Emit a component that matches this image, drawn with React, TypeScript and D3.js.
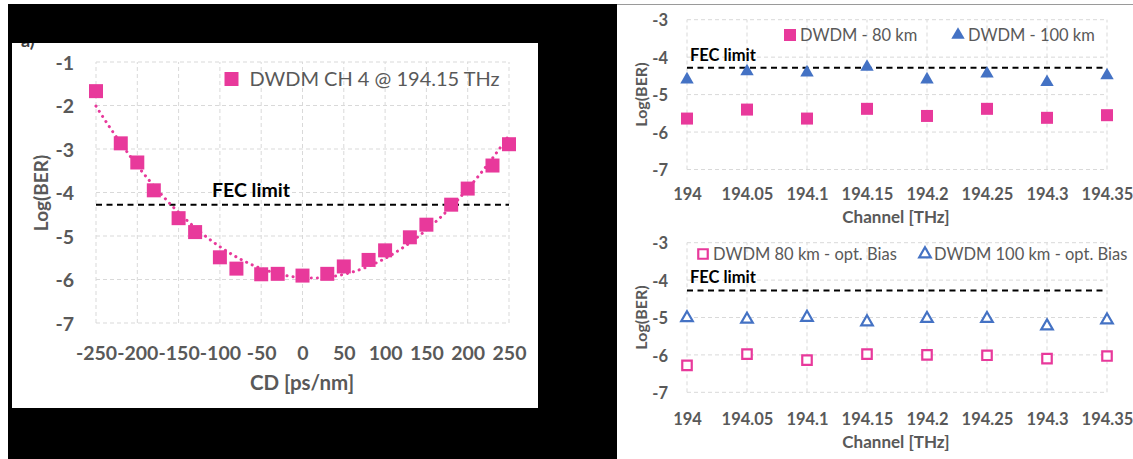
import React, { useEffect, useRef } from "react"
import * as d3 from "d3"

// left chart: BER vs chromatic dispersion, channel 4
const cdValues = [-250, -220, -200, -180, -150, -130, -100, -80, -50, -30, 0, 30, 50, 80, 100, 130, 150, 180, 200, 230, 250]
const berCh4 = [-1.67, -2.87, -3.31, -3.95, -4.59, -4.91, -5.49, -5.75, -5.88, -5.87, -5.91, -5.87, -5.7, -5.55, -5.33, -5.03, -4.74, -4.28, -3.91, -3.38, -2.89]
const cdTicks = [-250, -200, -150, -100, -50, 0, 50, 100, 150, 200, 250]
const cdBerTicks = [-1, -2, -3, -4, -5, -6, -7]

// right charts: BER per channel
const channels = [194, 194.05, 194.1, 194.15, 194.2, 194.25, 194.3, 194.35]
const ber80km = [-5.64, -5.4, -5.64, -5.38, -5.57, -5.38, -5.62, -5.55]
const ber100km = [-4.6, -4.38, -4.41, -4.26, -4.6, -4.44, -4.67, -4.49]
const ber80kmBias = [-6.28, -5.98, -6.14, -5.98, -6.0, -6.01, -6.1, -6.03]
const ber100kmBias = [-5.01, -5.05, -5.0, -5.12, -5.03, -5.03, -5.23, -5.07]
const channelBerTicks = [-3, -4, -5, -6, -7]

const fecLimit = -4.28

const pink = "#E8399B"
const blue = "#4472C4"
const grey = "#595959"
const gridGrey = "#D9D9D9"
const font = "Lato, 'Open Sans', sans-serif"

// plain hyphen for negatives, like excel
const plain = (d: any) => String(+(+d).toFixed(2))

// least squares 2nd order polynomial, like the excel trendline
const quadFit = (xs: number[], ys: number[]) => {
  const s = [0, 0, 0, 0, 0]
  const t = [0, 0, 0]
  xs.forEach((xv, i) => {
    const x = xv / 100
    for (let k = 0; k < 5; k++) s[k] += Math.pow(x, k)
    for (let k = 0; k < 3; k++) t[k] += ys[i] * Math.pow(x, k)
  })
  const m = [
    [s[0], s[1], s[2], t[0]],
    [s[1], s[2], s[3], t[1]],
    [s[2], s[3], s[4], t[2]]
  ]
  for (let c = 0; c < 3; c++) {
    for (let r = c + 1; r < 3; r++) {
      const f = m[r][c] / m[c][c]
      for (let k = c; k < 4; k++) m[r][k] -= f * m[c][k]
    }
  }
  const coef = [0, 0, 0]
  for (let r = 2; r >= 0; r--) {
    let v = m[r][3]
    for (let k = r + 1; k < 3; k++) v -= m[r][k] * coef[k]
    coef[r] = v / m[r][r]
  }
  return (xv: number) => coef[0] + coef[1] * (xv / 100) + coef[2] * (xv / 100) ** 2
}

const drawGrid = (g: any, x: any, y: any, xTicks: number[], yTicks: number[]) => {
  const [x0, x1] = x.range()
  const [y0, y1] = y.range()
  g.append("g")
    .selectAll("line")
    .data(xTicks)
    .join("line")
    .attr("x1", (d: number) => x(d))
    .attr("x2", (d: number) => x(d))
    .attr("y1", y0)
    .attr("y2", y1)
  g.append("g")
    .selectAll("line")
    .data(yTicks)
    .join("line")
    .attr("x1", x0)
    .attr("x2", x1)
    .attr("y1", (d: number) => y(d))
    .attr("y2", (d: number) => y(d))
  g.selectAll("line")
    .attr("stroke", gridGrey)
    .attr("stroke-width", 1)
    .attr("stroke-dasharray", "4 3")
}

const styleAxis = (g: any, size: number) => {
  g.select(".domain").remove()
  g.attr("font-family", font)
    .attr("font-size", size)
    .attr("font-weight", "bold")
    .attr("color", grey)
}

const addText = (svg: any, txt: string, x: number, y: number, size: number, opts: any = {}) => {
  return svg
    .append("text")
    .attr("x", x)
    .attr("y", y)
    .attr("font-family", font)
    .attr("font-size", size)
    .attr("font-weight", opts.bold ? "bold" : "normal")
    .attr("fill", opts.color || grey)
    .attr("text-anchor", opts.anchor || "start")
    .text(txt)
}

export default function App() {
  const ref = useRef(null)

  useEffect(() => {
    const svg = d3.select(ref.current)
    svg.selectAll("*").remove()

    // frame: black mat around left chart, white panel
    svg.append("rect").attr("width", 1133).attr("height", 459).attr("fill", "white")
    svg.append("rect").attr("x", 8).attr("y", 4).attr("width", 609).attr("height", 455).attr("fill", "black")
    svg.append("line").attr("x1", 617).attr("x2", 1133).attr("y1", 4.5).attr("y2", 4.5).attr("stroke", "#9a9a9a")
    svg.append("rect").attr("x", 12).attr("y", 43).attr("width", 526).attr("height", 365).attr("fill", "white")
    svg.append("clipPath").attr("id", "panel").append("rect").attr("x", 12).attr("y", 43).attr("width", 526).attr("height", 365)
    addText(svg, "a)", 21, 47, 18, { bold: true, color: "#404040" }).attr("clip-path", "url(#panel)")

    // ---------- left chart ----------
    const xL = d3.scaleLinear().domain([-250, 250]).range([96, 509])
    const yL = d3.scaleLinear().domain([-7, -1]).range([323, 62])
    drawGrid(svg.append("g"), xL, yL, cdTicks, cdBerTicks)

    svg.append("g")
      .attr("transform", "translate(0,360)")
      .call(d3.axisBottom(xL).tickValues(cdTicks).tickSize(0).tickPadding(0).tickFormat(plain))
      .call((g: any) => styleAxis(g, 19.5))
      .call((g: any) => g.selectAll("text").attr("y", 0).attr("dy", null))
    svg.append("g")
      .attr("transform", "translate(74,0)")
      .call(d3.axisLeft(yL).tickValues(cdBerTicks).tickSize(0).tickPadding(0).tickFormat(plain))
      .call((g: any) => styleAxis(g, 19.5))
      .call((g: any) => g.selectAll("text").attr("dy", "0.38em"))

    addText(svg, "CD [ps/nm]", 302, 390, 20.5, { bold: true, anchor: "middle" })
    addText(svg, "Log(BER)", 0, 0, 19, { bold: true, anchor: "middle" }).attr("transform", "translate(48,193) rotate(-90)")

    svg.append("line")
      .attr("x1", xL(-250))
      .attr("x2", xL(250))
      .attr("y1", yL(fecLimit))
      .attr("y2", yL(fecLimit))
      .attr("stroke", "black")
      .attr("stroke-width", 2)
      .attr("stroke-dasharray", "6 4.5")
    addText(svg, "FEC limit", 212, 197, 19.5, { bold: true, color: "black" })

    const trend = quadFit(cdValues, berCh4)
    const trendLine = d3.line<number>().x(d => xL(d)).y(d => yL(trend(d)))
    svg.append("path")
      .attr("d", trendLine(d3.range(-250, 251, 5)))
      .attr("fill", "none")
      .attr("stroke", pink)
      .attr("stroke-width", 3)
      .attr("stroke-linecap", "round")
      .attr("stroke-dasharray", "0.1 6")

    const squareBig = d3.symbol().type(d3.symbolSquare).size(196)
    svg.append("g")
      .selectAll("path")
      .data(cdValues)
      .join("path")
      .attr("d", squareBig())
      .attr("transform", (d, i) => `translate(${xL(d)},${yL(berCh4[i])})`)
      .attr("fill", pink)

    svg.append("path").attr("d", squareBig()).attr("transform", "translate(231.5,79)").attr("fill", pink)
    addText(svg, "DWDM CH 4 @ 194.15 THz", 249.5, 86, 20)

    // ---------- right charts ----------
    const xR = d3.scaleLinear().domain([194, 194.35]).range([687, 1107])
    const squareSmall = d3.symbol().type(d3.symbolSquare).size(144)
    const triSmall = d3.symbol().type(d3.symbolTriangle).size(78)
    const squareOpen = d3.symbol().type(d3.symbolSquare).size(90)
    const triOpen = d3.symbol().type(d3.symbolTriangle).size(58)

    const panels = [
      {
        y: d3.scaleLinear().domain([-7, -3]).range([169.5, 19.7]),
        tickBase: 199.5,
        titleBase: 223,
        fecBase: 61.3,
        legendBase: 41,
        legendMid: 35,
        series: [
          { values: ber100km, symbol: triSmall, fill: blue, stroke: "none", label: "DWDM - 100 km", mx: 958, tx: 968 },
          { values: ber80km, symbol: squareSmall, fill: pink, stroke: "none", label: "DWDM - 80 km", mx: 790, tx: 800 }
        ]
      },
      {
        y: d3.scaleLinear().domain([-7, -3]).range([392.3, 242.7]),
        tickBase: 425,
        titleBase: 448,
        fecBase: 283,
        legendBase: 259.5,
        legendMid: 254,
        series: [
          { values: ber100kmBias, symbol: triOpen, fill: "white", stroke: blue, label: "DWDM 100 km - opt. Bias", mx: 925, tx: 934 },
          { values: ber80kmBias, symbol: squareOpen, fill: "white", stroke: pink, label: "DWDM 80 km - opt. Bias", mx: 703, tx: 713 }
        ]
      }
    ]

    panels.forEach(p => {
      const yR = p.y
      drawGrid(svg.append("g"), xR, yR, channels, channelBerTicks)

      svg.append("g")
        .attr("transform", `translate(0,${p.tickBase})`)
        .call(d3.axisBottom(xR).tickValues(channels).tickSize(0).tickPadding(0).tickFormat(plain))
        .call((g: any) => styleAxis(g, 16.5))
        .call((g: any) => g.selectAll("text").attr("y", 0).attr("dy", null))
      svg.append("g")
        .attr("transform", "translate(668,0)")
        .call(d3.axisLeft(yR).tickValues(channelBerTicks).tickSize(0).tickPadding(0).tickFormat(plain))
        .call((g: any) => styleAxis(g, 16.5))
        .call((g: any) => g.selectAll("text").attr("dy", "0.38em"))

      addText(svg, "Channel [THz]", 896, p.titleBase, 17, { bold: true, anchor: "middle" })
      const midY = (yR.range()[0] + yR.range()[1]) / 2
      addText(svg, "Log(BER)", 0, 0, 16, { bold: true, anchor: "middle" }).attr("transform", `translate(647,${midY}) rotate(-90)`)

      svg.append("line")
        .attr("x1", xR(194))
        .attr("x2", xR(194.35))
        .attr("y1", yR(fecLimit))
        .attr("y2", yR(fecLimit))
        .attr("stroke", "black")
        .attr("stroke-width", 2)
        .attr("stroke-dasharray", "6 4.5")
      addText(svg, "FEC limit", 690, p.fecBase, 16.5, { bold: true, color: "black" })

      p.series.forEach(s => {
        svg.append("g")
          .selectAll("path")
          .data(channels)
          .join("path")
          .attr("d", s.symbol())
          .attr("transform", (d, i) => `translate(${xR(d)},${yR(s.values[i])})`)
          .attr("fill", s.fill)
          .attr("stroke", s.stroke)
          .attr("stroke-width", 2.2)

        svg.append("path")
          .attr("d", s.symbol())
          .attr("transform", `translate(${s.mx},${p.legendMid})`)
          .attr("fill", s.fill)
          .attr("stroke", s.stroke)
          .attr("stroke-width", 2.2)
        addText(svg, s.label, s.tx, p.legendBase, 16.5)
      })
    })
  }, [])

  return (
    <svg
      ref={ref}
      width={1133}
      height={459}
      style={{ position: "absolute", left: 0, top: 0 }}
    ></svg>
  )
}
